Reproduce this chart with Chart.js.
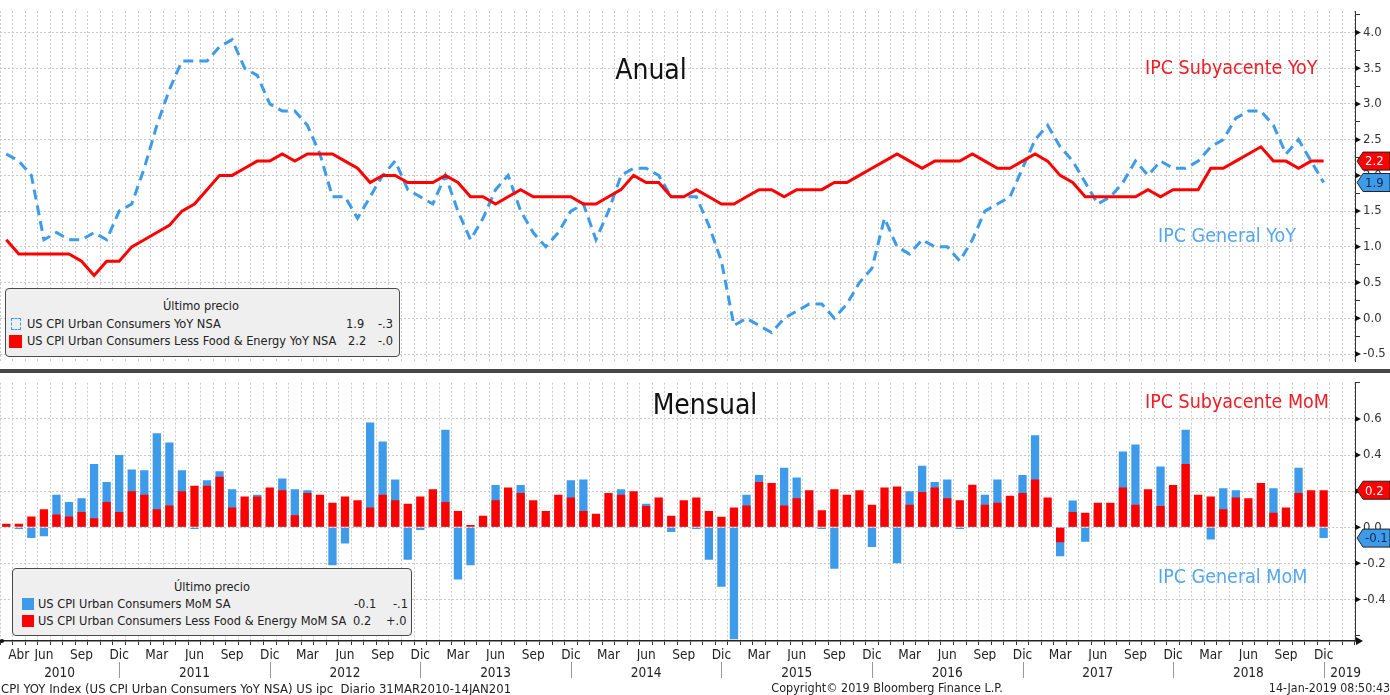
<!DOCTYPE html>
<html>
<head>
<meta charset="utf-8">
<script src="https://cdn.jsdelivr.net/npm/chart.js@4.4.1/dist/chart.umd.min.js"></script>
<style>
  html, body { margin:0; padding:0; background:#fff; }
  body { width:1390px; height:695px; position:relative; overflow:hidden;
         font-family:"DejaVu Sans Condensed","DejaVu Sans",sans-serif; color:#222; }
  canvas { position:absolute; left:0; }
  #cTop { top:0; }
  #cBot { top:372px; }
  .sep { position:absolute; left:0; top:369px; width:1390px; height:4px; background:#474747; }
  .t { position:absolute; white-space:nowrap; line-height:1; }
  .title { font-size:28px; color:#111; transform:translate(-50%,-50%); }
  .ann { font-size:19.5px; transform:translateY(-50%); }
  .red { color:#ee1c24; }
  .blue { color:#55a6ee; }
  .legend { position:absolute; background:#efefef; border:1.5px solid #4a4a4a; border-radius:4px; font-size:12.7px; }
  .legend .t { transform:translateY(-50%); }
  .ico { position:absolute; box-sizing:border-box; }
  .foot { color:#222; transform:translateY(-50%); }
</style>
</head>
<body>
<canvas id="cTop" width="1390" height="372"></canvas>
<canvas id="cBot" width="1390" height="323"></canvas>
<div class="sep"></div>

<div class="t title" style="left:651px;top:70px">Anual</div>
<div class="t title" style="left:705px;top:405px">Mensual</div>
<div class="t ann red" style="left:1145px;top:68px">IPC Subyacente YoY</div>
<div class="t ann blue" style="left:1158px;top:236px">IPC General YoY</div>
<div class="t ann red" style="left:1145px;top:402px">IPC Subyacente MoM</div>
<div class="t ann blue" style="left:1158px;top:577px">IPC General MoM</div>

<div class="legend" style="left:5px;top:288px;width:393px;height:67px">
  <div class="t" style="left:195px;top:17px;transform:translate(-50%,-50%)">Último precio</div>
  <div class="ico" style="left:5px;top:29px;width:10px;height:12px;border:1.5px dashed #3d9be9"></div>
  <div class="t" style="left:21px;top:35px">US CPI Urban Consumers YoY NSA</div>
  <div class="t" style="left:340px;top:35px">1.9</div>
  <div class="t" style="left:372px;top:35px">-.3</div>
  <div class="ico" style="left:3px;top:46px;width:13px;height:13px;background:#f00"></div>
  <div class="t" style="left:21px;top:52px">US CPI Urban Consumers Less Food &amp; Energy YoY NSA</div>
  <div class="t" style="left:342px;top:52px">2.2</div>
  <div class="t" style="left:372px;top:52px">-.0</div>
</div>

<div class="legend" style="left:12px;top:568px;width:398px;height:66px">
  <div class="t" style="left:199px;top:18px;transform:translate(-50%,-50%)">Último precio</div>
  <div class="ico" style="left:9px;top:29px;width:12px;height:12px;background:#3d9be9"></div>
  <div class="t" style="left:25px;top:35px">US CPI Urban Consumers MoM SA</div>
  <div class="t" style="left:341px;top:35px">-0.1</div>
  <div class="t" style="left:380px;top:35px">-.1</div>
  <div class="ico" style="left:9px;top:46px;width:12px;height:12px;background:#f00"></div>
  <div class="t" style="left:25px;top:52px">US CPI Urban Consumers Less Food &amp; Energy MoM SA</div>
  <div class="t" style="left:340px;top:52px">0.2</div>
  <div class="t" style="left:373px;top:52px">+.0</div>
</div>

<div class="t foot" style="left:1px;top:688px;font-size:13px">CPI YOY Index (US CPI Urban Consumers YoY NSA) US ipc&nbsp; Diario 31MAR2010-14JAN201</div>
<div class="t foot" style="left:887px;top:688px;font-size:12.5px;transform:translate(-50%,-50%)">Copyright© 2019 Bloomberg Finance L.P.</div>
<div class="t foot" style="right:0px;top:688px;font-size:12.3px">14-Jan-2019 08:50:43</div>

<script>
// meses en español, el eje va de mar-2010 a feb-2019
const MESES = ['Ene','Feb','Mar','Abr','May','Jun','Jul','Ago','Sep','Oct','Nov','Dic'];
const months = [];
for (let k = 0; k < 108; k++) {
  months.push(MESES[(2 + k) % 12] + ' ' + (2010 + Math.floor((2 + k) / 12)));
}
const years = ['2010','2011','2012','2013','2014','2015','2016','2017','2018','2019'];
const quarterMonths = ['Mar','Jun','Sep','Dic'];

// IPC general YoY NSA (mar-2010 .. dic-2018)
const cpiYoY = [
  2.3, 2.2, 2.0, 1.1, 1.2, 1.1, 1.1, 1.2, 1.1, 1.5,
  1.6, 2.1, 2.7, 3.2, 3.6, 3.6, 3.6, 3.8, 3.9, 3.5, 3.4, 3.0,
  2.9, 2.9, 2.7, 2.3, 1.7, 1.7, 1.4, 1.7, 2.0, 2.2, 1.8, 1.7,
  1.6, 2.0, 1.5, 1.1, 1.4, 1.8, 2.0, 1.5, 1.2, 1.0, 1.2, 1.5,
  1.6, 1.1, 1.5, 2.0, 2.1, 2.1, 2.0, 1.7, 1.7, 1.7, 1.3, 0.8,
  -0.1, 0.0, -0.1, -0.2, 0.0, 0.1, 0.2, 0.2, 0.0, 0.2, 0.5, 0.7,
  1.4, 1.0, 0.9, 1.1, 1.0, 1.0, 0.8, 1.1, 1.5, 1.6, 1.7, 2.1,
  2.5, 2.7, 2.4, 2.2, 1.9, 1.6, 1.7, 1.9, 2.2, 2.0, 2.2, 2.1,
  2.1, 2.2, 2.4, 2.5, 2.8, 2.9, 2.9, 2.7, 2.3, 2.5, 2.2, 1.9
];
// IPC subyacente YoY NSA
const coreYoY = [
  1.1, 0.9, 0.9, 0.9, 0.9, 0.9, 0.8, 0.6, 0.8, 0.8,
  1.0, 1.1, 1.2, 1.3, 1.5, 1.6, 1.8, 2.0, 2.0, 2.1, 2.2, 2.2,
  2.3, 2.2, 2.3, 2.3, 2.3, 2.2, 2.1, 1.9, 2.0, 2.0, 1.9, 1.9,
  1.9, 2.0, 1.9, 1.7, 1.7, 1.6, 1.7, 1.8, 1.7, 1.7, 1.7, 1.7,
  1.6, 1.6, 1.7, 1.8, 2.0, 1.9, 1.9, 1.7, 1.7, 1.8, 1.7, 1.6,
  1.6, 1.7, 1.8, 1.8, 1.7, 1.8, 1.8, 1.8, 1.9, 1.9, 2.0, 2.1,
  2.2, 2.3, 2.2, 2.1, 2.2, 2.2, 2.2, 2.3, 2.2, 2.1, 2.1, 2.2,
  2.3, 2.2, 2.0, 1.9, 1.7, 1.7, 1.7, 1.7, 1.7, 1.8, 1.7, 1.8,
  1.8, 1.8, 2.1, 2.1, 2.2, 2.3, 2.4, 2.2, 2.2, 2.1, 2.2, 2.2
];
// IPC general MoM SA
const cpiMoM = [
  0.01, -0.01, -0.06, -0.05, 0.18, 0.14, 0.16, 0.35, 0.25, 0.40,
  0.32, 0.315, 0.52, 0.47, 0.315, -0.01, 0.26, 0.31, 0.21, 0.10, 0.18, 0.05,
  0.27, 0.21, 0.205, 0.15, -0.21, -0.09, 0.0, 0.58, 0.475, 0.265, -0.18, -0.015,
  0.05, 0.54, -0.29, -0.21, 0.03, 0.234, 0.20, 0.234, 0.10, 0.05, 0.10, 0.26,
  0.265, 0.05, 0.15, 0.21, 0.15, 0.13, 0.10, -0.027, 0.05, -0.01, -0.18, -0.33,
  -0.62, 0.18, 0.29, 0.15, 0.33, 0.275, 0.15, -0.01, -0.23, 0.15, 0.05, -0.11,
  0.10, -0.20, 0.20, 0.34, 0.25, 0.265, -0.01, 0.20, 0.18, 0.265, 0.15, 0.29,
  0.51, 0.10, -0.16, 0.148, -0.08, 0.10, 0.05, 0.42, 0.458, 0.10, 0.337, 0.15,
  0.54, 0.15, -0.068, 0.216, 0.205, 0.10, 0.20, 0.216, 0.10, 0.33, 0.0, -0.06
];
// IPC subyacente MoM SA
const coreMoM = [
  0.02, 0.02, 0.06, 0.10, 0.07, 0.06, 0.085, 0.05, 0.14, 0.085,
  0.20, 0.18, 0.10, 0.12, 0.20, 0.23, 0.23, 0.28, 0.11, 0.17, 0.17, 0.22,
  0.205, 0.067, 0.19, 0.18, 0.135, 0.17, 0.15, 0.11, 0.18, 0.15, 0.13, 0.17,
  0.21, 0.14, 0.09, 0.013, 0.063, 0.15, 0.22, 0.19, 0.15, 0.09, 0.18, 0.165,
  0.09, 0.075, 0.19, 0.18, 0.20, 0.117, 0.165, 0.063, 0.15, 0.165, 0.09, 0.058,
  0.11, 0.12, 0.25, 0.245, 0.12, 0.16, 0.205, 0.094, 0.21, 0.18, 0.205, 0.125,
  0.22, 0.225, 0.125, 0.195, 0.22, 0.16, 0.15, 0.235, 0.125, 0.135, 0.175, 0.19,
  0.265, 0.165, -0.083, 0.085, 0.08, 0.135, 0.135, 0.22, 0.125, 0.21, 0.117, 0.234,
  0.35, 0.18, 0.17, 0.10, 0.165, 0.16, 0.245, 0.08, 0.11, 0.19, 0.205, 0.205
];

const yoyTicks = [-0.5, 0, 0.5, 1, 1.5, 2, 2.5, 3, 3.5, 4];
const yoyMinor = [-0.25, 0.25, 0.75, 1.25, 1.75, 2.25, 2.75, 3.25, 3.75, 4.25];
const momTicks = [-0.4, -0.2, 0, 0.2, 0.4, 0.6];
const momMinor = [-0.6, -0.5, -0.3, -0.1, 0.1, 0.3, 0.5, 0.7, 0.8];

const BLUE = '#3d9be9';
const RED = '#ff0000';
const GRID = '#c9c9c9';
const FONT = "'DejaVu Sans Condensed','DejaVu Sans',sans-serif";
Chart.defaults.font.family = FONT;
Chart.defaults.color = '#222';

function isMajor(list, v) {
  return list.some(t => Math.abs(t - v) < 1e-6);
}

function tickSet(majors, minors) {
  return majors.concat(minors).sort((a, b) => a - b).map(v => ({ value: v }));
}

// etiqueta con flecha a la derecha del eje (ultimo valor)
function tag(ctx, y, text, fill, color) {
  const x0 = 1357, x1 = 1390, h = 18;
  ctx.save();
  ctx.beginPath();
  ctx.moveTo(x0, y);
  ctx.lineTo(x0 + 6, y - h / 2);
  ctx.lineTo(x1, y - h / 2);
  ctx.lineTo(x1, y + h / 2);
  ctx.lineTo(x0 + 6, y + h / 2);
  ctx.closePath();
  ctx.fillStyle = fill;
  ctx.fill();
  ctx.strokeStyle = '#222';
  ctx.lineWidth = 1;
  ctx.stroke();
  ctx.fillStyle = color;
  ctx.font = '13px ' + FONT;
  ctx.textBaseline = 'middle';
  ctx.textAlign = 'left';
  ctx.fillText(text, x0 + 8, y + 1);
  ctx.restore();
}

function rightAxisPlugin(majors, tags) {
  return {
    id: 'rightAxis',
    afterDraw(chart) {
      const ctx = chart.ctx, ys = chart.scales.y;
      ctx.save();
      ctx.fillStyle = '#111';
      majors.forEach(v => {
        const py = ys.getPixelForValue(v);
        ctx.beginPath();
        ctx.moveTo(ys.left, py - 3);
        ctx.lineTo(ys.left + 6, py);
        ctx.lineTo(ys.left, py + 3);
        ctx.closePath();
        ctx.fill();
      });
      ctx.restore();
      tags.forEach(t => tag(ctx, ys.getPixelForValue(t.value), t.text, t.fill, t.color));
    }
  };
}

function yScale(min, max, majors, minors) {
  return {
    position: 'right',
    min: min,
    max: max,
    afterBuildTicks: s => { s.ticks = tickSet(majors, minors); },
    afterFit: s => { s.width = 35; },
    border: { display: true, color: '#333', width: 1, dash: [2, 2] },
    grid: {
      color: c => isMajor(majors, c.tick.value) ? GRID : 'rgba(0,0,0,0)',
      tickColor: c => isMajor(majors, c.tick.value) ? 'rgba(0,0,0,0)' : '#333',
      tickLength: 5,
      lineWidth: 1
    },
    ticks: {
      padding: 3,
      font: { size: 13 },
      color: '#333',
      callback: v => isMajor(majors, v) ? v.toFixed(1) : ''
    }
  };
}

new Chart(document.getElementById('cTop'), {
  type: 'line',
  data: {
    labels: months,
    datasets: [
      { label: 'US CPI Urban Consumers Less Food & Energy YoY NSA', data: coreYoY,
        borderColor: RED, borderWidth: 3, pointRadius: 0, order: 0 },
      { label: 'US CPI Urban Consumers YoY NSA', data: cpiYoY,
        borderColor: BLUE, borderWidth: 3, borderDash: [10, 6], pointRadius: 0, order: 1 }
    ]
  },
  options: {
    responsive: false,
    animation: false,
    layout: { padding: { top: 11, bottom: 4, left: 0, right: 0 }, autoPadding: false },
    plugins: { legend: { display: false }, tooltip: { enabled: false } },
    scales: {
      x: {
        offset: true,
        afterFit: s => { s.height = 0; },
        border: { display: false, dash: [2, 2] },
        grid: { offset: true, color: GRID, drawTicks: false },
        ticks: { display: false }
      },
      y: yScale(-0.6, 4.3, yoyTicks, yoyMinor)
    }
  },
  plugins: [rightAxisPlugin(yoyTicks, [
    { value: coreYoY[coreYoY.length - 1], text: '2.2', fill: RED, color: '#fff' },
    { value: cpiYoY[cpiYoY.length - 1], text: '1.9', fill: BLUE, color: '#10284a' }
  ])]
});

const yearsPlugin = {
  id: 'years',
  afterDraw(chart) {
    const ctx = chart.ctx, xs = chart.scales.x, area = chart.chartArea;
    ctx.save();
    ctx.font = '13.5px ' + FONT;
    ctx.fillStyle = '#222';
    ctx.textAlign = 'center';
    ctx.textBaseline = 'middle';
    ctx.strokeStyle = '#999';
    ctx.lineWidth = 1;
    let left = area.left;
    years.forEach(yr => {
      const idx = months.indexOf('Dic ' + yr);
      const right = idx >= 0 ? xs.getPixelForValue(idx) : area.right;
      if (idx >= 0) {
        ctx.beginPath();
        ctx.moveTo(Math.round(right) + 0.5, 290);
        ctx.lineTo(Math.round(right) + 0.5, 306);
        ctx.stroke();
      }
      const cx = idx >= 0 ? (left + right) / 2 : left + 22;
      ctx.fillText(yr, cx, 301);
      left = right;
    });
    // flecha al final del eje x
    const y0 = area.bottom;
    ctx.fillStyle = '#111';
    ctx.beginPath();
    ctx.moveTo(area.right + 1, y0 - 4);
    ctx.lineTo(area.right + 8, y0);
    ctx.lineTo(area.right + 1, y0 + 4);
    ctx.closePath();
    ctx.fill();
    ctx.beginPath();
    ctx.arc(area.left + 2, y0, 2, 0, Math.PI * 2);
    ctx.fill();
    ctx.restore();
  }
};

new Chart(document.getElementById('cBot'), {
  type: 'bar',
  data: {
    labels: months,
    datasets: [
      { label: 'US CPI Urban Consumers Less Food & Energy MoM SA', data: coreMoM,
        backgroundColor: RED, order: 0, grouped: false, barPercentage: 0.66, categoryPercentage: 1 },
      { label: 'US CPI Urban Consumers MoM SA', data: cpiMoM,
        backgroundColor: BLUE, order: 1, grouped: false, barPercentage: 0.66, categoryPercentage: 1 }
    ]
  },
  options: {
    responsive: false,
    animation: false,
    layout: { padding: { top: 4, bottom: 34, left: 0, right: 0 }, autoPadding: false },
    plugins: { legend: { display: false }, tooltip: { enabled: false } },
    scales: {
      x: {
        offset: true,
        afterFit: s => { s.height = 20; },
        border: { display: true, color: '#222', width: 1.5, dash: [2, 2] },
        grid: { offset: true, color: GRID, tickColor: '#333', tickLength: 4 },
        ticks: {
          autoSkip: false,
          maxRotation: 0,
          padding: 2,
          font: { size: 13.5 },
          color: '#222',
          callback: (v, i) => {
            if (i === 1) return 'Abr';
            const m = months[i].split(' ')[0];
            return (i >= 3 && i <= 105 && quarterMonths.includes(m)) ? m : '';
          }
        }
      },
      y: yScale(-0.63, 0.8, momTicks, momMinor)
    }
  },
  plugins: [rightAxisPlugin(momTicks, [
    { value: coreMoM[coreMoM.length - 1], text: '0.2', fill: RED, color: '#fff' },
    { value: cpiMoM[cpiMoM.length - 1], text: '-0.1', fill: BLUE, color: '#10284a' }
  ]), yearsPlugin]
});
</script>
</body>
</html>
